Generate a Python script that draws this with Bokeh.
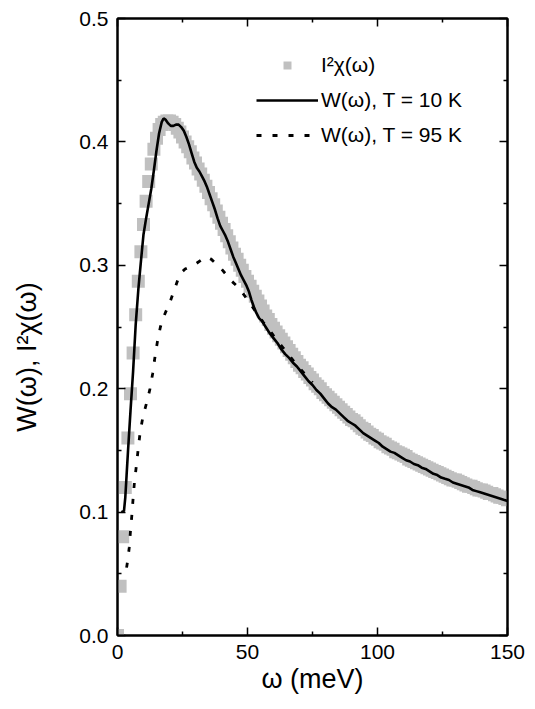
from bokeh.plotting import figure
from bokeh.models import (Range1d, LinearAxis, FixedTicker, NumeralTickFormatter,
                          Legend, LegendItem, CustomLabelingPolicy)
from bokeh.embed import file_html
from bokeh.resources import INLINE

# I^2 chi(omega): model, one point per meV
omega_model = list(range(0, 151))
i2chi = [
    0.000, 0.040, 0.080, 0.120, 0.160, 0.196, 0.229, 0.260, 0.287, 0.311,
    0.333, 0.352, 0.368, 0.382, 0.394, 0.403, 0.410, 0.414, 0.416, 0.417,
    0.417, 0.416, 0.414, 0.411, 0.408, 0.404, 0.400, 0.396, 0.392, 0.387,
    0.383, 0.378, 0.374, 0.369, 0.364, 0.359, 0.354, 0.349, 0.344, 0.339,
    0.334, 0.329, 0.324, 0.319, 0.314, 0.309, 0.305, 0.300, 0.296, 0.291,
    0.287, 0.283, 0.279, 0.275, 0.271, 0.267, 0.263, 0.259, 0.256, 0.252,
    0.249, 0.246, 0.243, 0.240, 0.237, 0.234, 0.231, 0.228, 0.225, 0.222,
    0.219, 0.217, 0.214, 0.212, 0.209, 0.207, 0.204, 0.202, 0.200, 0.197,
    0.195, 0.193, 0.191, 0.189, 0.187, 0.185, 0.183, 0.181, 0.179, 0.177,
    0.175, 0.174, 0.172, 0.170, 0.168, 0.167, 0.165, 0.163, 0.162, 0.160,
    0.159, 0.157, 0.156, 0.155, 0.153, 0.152, 0.151, 0.149, 0.148, 0.147,
    0.146, 0.145, 0.143, 0.142, 0.141, 0.140, 0.139, 0.138, 0.137, 0.136,
    0.135, 0.134, 0.133, 0.132, 0.131, 0.130, 0.129, 0.128, 0.127, 0.126,
    0.126, 0.125, 0.124, 0.123, 0.122, 0.121, 0.121, 0.120, 0.119, 0.118,
    0.118, 0.117, 0.116, 0.115, 0.115, 0.114, 0.113, 0.112, 0.112, 0.111,
    0.110,
]

# W(omega), T = 10 K
omega_10k = [1.5, 2.5, 3.0, 3.5, 4.0, 5.0, 6.0, 7.0, 8.0, 9.0, 10.0, 11.0, 12.0,
             13.0, 14.0, 15.0, 16.0, 17.0, 17.7, 18.5, 19.5, 20.5, 21.5, 22.5,
             23.5, 24.5, 25.5, 26.5, 27.5, 28.5, 29.5, 30.5, 31.5, 32.5, 33.5,
             34.5, 35.5, 36.5, 37.5, 38.5, 39.5, 40.5, 41.5, 42.5, 43.5, 44.5,
             45.5, 46.5, 47.5, 48.5, 49.5, 50.5, 51.5, 52.5, 53.5, 54.5, 55.5,
             57.0, 58.5, 60.0, 61.5, 63.0, 64.5, 66.0, 67.5, 69.0, 70.5, 72.0,
             73.5, 75.0, 76.5, 78.0, 79.5, 81.0, 82.5, 84.0, 85.5, 87.0, 88.5,
             90.0, 91.5, 93.0, 94.5, 96.0, 97.5, 99.0, 100.5, 102.0, 103.5,
             105.0, 106.5, 108.0, 109.5, 111.0, 112.5, 114.0, 115.5, 117.0,
             118.5, 120.0, 121.5, 123.0, 124.5, 126.0, 127.5, 129.0, 130.5,
             132.0, 133.5, 135.0, 136.5, 138.0, 139.5, 141.0, 142.5, 144.0,
             145.5, 147.0, 148.5, 150.0]
w_10k = [0.100, 0.101, 0.112, 0.130, 0.148, 0.182, 0.214, 0.252, 0.280, 0.303,
         0.325, 0.338, 0.350, 0.362, 0.377, 0.393, 0.407, 0.416, 0.419, 0.418,
         0.415, 0.413, 0.413, 0.414, 0.414, 0.412, 0.409, 0.404, 0.398, 0.391,
         0.384, 0.379, 0.376, 0.372, 0.368, 0.363, 0.357, 0.351, 0.345, 0.338,
         0.332, 0.328, 0.324, 0.319, 0.313, 0.307, 0.302, 0.297, 0.292, 0.288,
         0.284, 0.279, 0.272, 0.266, 0.261, 0.257, 0.255, 0.250, 0.245, 0.241,
         0.237, 0.232, 0.228, 0.225, 0.221, 0.218, 0.214, 0.210, 0.206, 0.203,
         0.199, 0.196, 0.192, 0.188, 0.185, 0.183, 0.180, 0.177, 0.174, 0.172,
         0.170, 0.167, 0.164, 0.162, 0.160, 0.158, 0.156, 0.153, 0.151, 0.149,
         0.148, 0.146, 0.144, 0.142, 0.141, 0.139, 0.138, 0.136, 0.135, 0.133,
         0.131, 0.130, 0.128, 0.127, 0.126, 0.124, 0.123, 0.122, 0.121, 0.120,
         0.118, 0.117, 0.116, 0.115, 0.114, 0.113, 0.112, 0.111, 0.110, 0.109]

# W(omega), T = 95 K
omega_95k = [3.5, 4.0, 4.5, 5.0, 5.5, 6.0, 6.5, 7.0, 7.5, 8.0, 8.5, 9.0, 9.5,
             10.5, 11.5, 12.5, 13.5, 14.5, 15.5, 16.5, 17.5, 18.5, 20.0, 22.0,
             24.0, 26.0, 28.0, 30.0, 32.0, 34.0, 36.0, 38.0, 40.0, 42.0, 44.0,
             46.0, 48.0, 50.0, 52.0, 54.0, 56.0, 58.0, 60.0, 63.0, 66.0, 69.0,
             72.0, 75.0]
w_95k = [0.055, 0.062, 0.071, 0.085, 0.097, 0.111, 0.124, 0.133, 0.142, 0.152,
         0.161, 0.168, 0.174, 0.183, 0.191, 0.200, 0.212, 0.227, 0.240, 0.250,
         0.257, 0.262, 0.269, 0.281, 0.293, 0.297, 0.299, 0.301, 0.304, 0.307,
         0.305, 0.301, 0.297, 0.292, 0.287, 0.283, 0.278, 0.272, 0.266, 0.260,
         0.254, 0.249, 0.243, 0.235, 0.227, 0.219, 0.212, 0.205]

x_ticks = [0, 50, 100, 150]
x_minor = [25, 75, 125]
y_ticks = [0, 0.1, 0.2, 0.3, 0.4, 0.5]
y_minor = [0.05, 0.15, 0.25, 0.35, 0.45]

FONT = "Liberation Sans"

p = figure(width=527, height=701, output_backend="svg", toolbar_location=None,
           x_range=Range1d(0, 150), y_range=Range1d(0, 0.5),
           min_border_left=117, min_border_right=20, min_border_top=18,
           min_border_bottom=66)
p.grid.visible = False
p.outline_line_color = "black"
p.outline_line_width = 2
p.background_fill_color = "white"

r_sq = p.scatter(omega_model, i2chi, marker="square", size=13,
                 fill_color="#c0c0c0", line_color=None)
r_95 = p.line(omega_95k, w_95k, line_color="black", line_width=2.8,
              line_dash="5 11")
r_10 = p.line(omega_10k, w_10k, line_color="black", line_width=2.6)

xt = FixedTicker(ticks=x_ticks, minor_ticks=x_minor)
yt = FixedTicker(ticks=y_ticks, minor_ticks=y_minor)

# top / right axes only carry ticks, no labels
no_labels = CustomLabelingPolicy(code="""
const all = [...indices]
for (const i of all) { indices.unset(i) }
return indices
""")


def style_axis(ax, labels=True):
    ax.axis_line_width = 2
    ax.axis_line_color = "black"
    ax.major_tick_line_color = "black"
    ax.minor_tick_line_color = "black"
    ax.major_tick_in = 8
    ax.major_tick_out = 0
    ax.minor_tick_in = 4
    ax.minor_tick_out = 0
    ax.major_tick_line_width = 1.5
    ax.minor_tick_line_width = 1.5
    ax.major_label_text_font = FONT
    ax.major_label_text_color = "black"
    if labels:
        ax.major_label_text_font_size = "21px"
        ax.major_label_standoff = 9
    else:
        ax.major_label_text_font_size = "1px"
        ax.major_label_standoff = 0
        ax.major_label_policy = no_labels


p.xaxis.ticker = xt
p.yaxis.ticker = yt
p.yaxis.formatter = NumeralTickFormatter(format="0.0")
style_axis(p.xaxis[0])
style_axis(p.yaxis[0])
p.xaxis.axis_label = "ω (meV)"
# trailing no-break spaces push the label down, as in the original
p.yaxis.axis_label = "W(ω), I²χ(ω)" + "\u00a0" * 8
for ax in (p.xaxis[0], p.yaxis[0]):
    ax.axis_label_text_font = FONT
    ax.axis_label_text_font_size = "27px"
    ax.axis_label_text_font_style = "normal"
    ax.axis_label_text_color = "black"
p.xaxis.axis_label_standoff = 2
p.yaxis.axis_label_standoff = 34

top = LinearAxis(ticker=xt)
style_axis(top, labels=False)
p.add_layout(top, "above")
right = LinearAxis(ticker=yt)
style_axis(right, labels=False)
p.add_layout(right, "right")

legend = Legend(items=[
    LegendItem(label="I²χ(ω)", renderers=[r_sq]),
    LegendItem(label="W(ω), T = 10 K", renderers=[r_10]),
    LegendItem(label="W(ω), T = 95 K", renderers=[r_95]),
], location=(139, 488))
legend.border_line_color = None
legend.background_fill_alpha = 0
legend.label_text_font = FONT
legend.label_text_font_size = "21px"
legend.label_text_color = "black"
legend.glyph_width = 62
legend.glyph_height = 20
legend.label_height = 20
legend.label_standoff = 3
legend.spacing = 11
legend.padding = 0
legend.margin = 0
p.add_layout(legend)

open("out.html", "w").write(file_html(p, INLINE))
